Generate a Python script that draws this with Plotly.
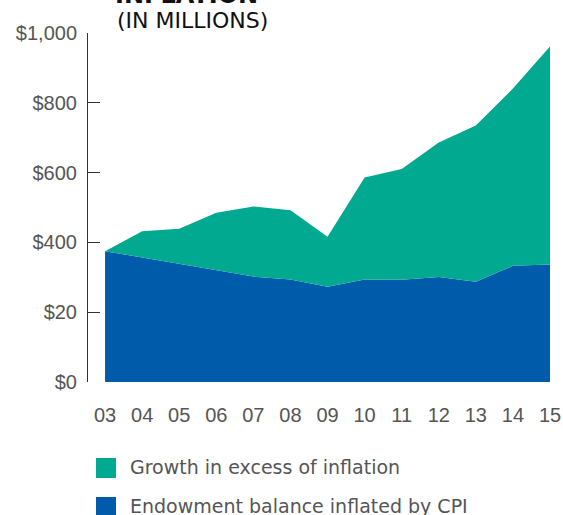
import plotly.graph_objects as go

years = ["03", "04", "05", "06", "07", "08", "09", "10", "11", "12", "13", "14", "15"]
cpi_balance = [375, 357, 340, 322, 302, 294, 273, 294, 293, 301, 287, 333, 337]
total_balance = [375, 432, 439, 485, 503, 492, 416, 586, 610, 686, 735, 841, 961]
ytick_vals = [0, 200, 400, 600, 800, 1000]
ytick_text = ["$0", "$20", "$400", "$600", "$800", "$1,000"]
legend_labels = ["Growth in excess of inflation", "Endowment balance inflated by CPI"]
title_bold = "INFLATION"
title_sub = "(IN MILLIONS)"

GREEN = "#00A98F"
BLUE = "#005BAA"
TXT = "#555555"
FONT = "Liberation Sans, Arial, sans-serif"
WIDE = "DejaVu Sans, Verdana, sans-serif"

W, H = 563, 515
L, R, T, B = 88, 13, 33, 133
PW, PH = W - L - R, H - T - B

def px(x):
    return (x - L) / PW

def py(y):
    return (H - B - y) / PH

xs = list(range(len(years)))

fig = go.Figure()
fig.add_trace(go.Scatter(x=xs, y=cpi_balance, mode="lines", line=dict(width=0, color=BLUE),
                         fill="tozeroy", fillcolor=BLUE, showlegend=False, hoverinfo="skip"))
fig.add_trace(go.Scatter(x=xs, y=total_balance, mode="lines", line=dict(width=0, color=GREEN),
                         fill="tonexty", fillcolor=GREEN, showlegend=False, hoverinfo="skip"))

shapes = [
    dict(type="rect", xref="paper", yref="paper", x0=px(96), x1=px(116), y0=py(478), y1=py(458),
         fillcolor=GREEN, line=dict(width=0)),
    dict(type="rect", xref="paper", yref="paper", x0=px(96), x1=px(116), y0=py(517), y1=py(497),
         fillcolor=BLUE, line=dict(width=0)),
]
annotations = [
    dict(xref="paper", yref="paper", x=px(128), y=py(467), xanchor="left", yanchor="middle",
         text=legend_labels[0], showarrow=False, font=dict(family=WIDE, size=19, color=TXT)),
    dict(xref="paper", yref="paper", x=px(128), y=py(506), xanchor="left", yanchor="middle",
         text=legend_labels[1], showarrow=False, font=dict(family=WIDE, size=19, color=TXT)),
    dict(xref="paper", yref="paper", x=px(113), y=py(11), xanchor="left", yanchor="bottom",
         align="left", text="<b>" + title_bold + "</b>", showarrow=False,
         font=dict(family=WIDE, size=24, color="#111111")),
    dict(xref="paper", yref="paper", x=px(115), y=py(35), xanchor="left", yanchor="bottom",
         align="left", text=title_sub, showarrow=False,
         font=dict(family=WIDE, size=22, color="#111111")),
]

fig.update_layout(
    width=W, height=H, autosize=False,
    margin=dict(l=L, r=R, t=T, b=B, pad=0, autoexpand=False),
    paper_bgcolor="white", plot_bgcolor="white",
    font=dict(family=FONT, color=TXT),
    shapes=shapes, annotations=annotations,
    showlegend=False,
)
fig.update_xaxes(range=[-0.46, 12], tickvals=xs, ticktext=years, showgrid=False, zeroline=False,
                 showline=False, ticks="", tickfont=dict(size=20, color=TXT), ticklabelstandoff=19,
                 automargin=False)
fig.update_yaxes(range=[0, 1000], tickvals=ytick_vals, ticktext=ytick_text, showgrid=False,
                 zeroline=False, showline=True, linecolor="#333333", linewidth=1,
                 ticks="inside", ticklen=12, tickcolor="#333333", tickwidth=1,
                 tickfont=dict(size=20, color=TXT), ticklabelstandoff=6, automargin=False)

fig.write_html("out.html", config={"displayModeBar": False, "responsive": False},
               post_script="document.body.style.margin='0px';document.body.style.overflow='hidden';")
